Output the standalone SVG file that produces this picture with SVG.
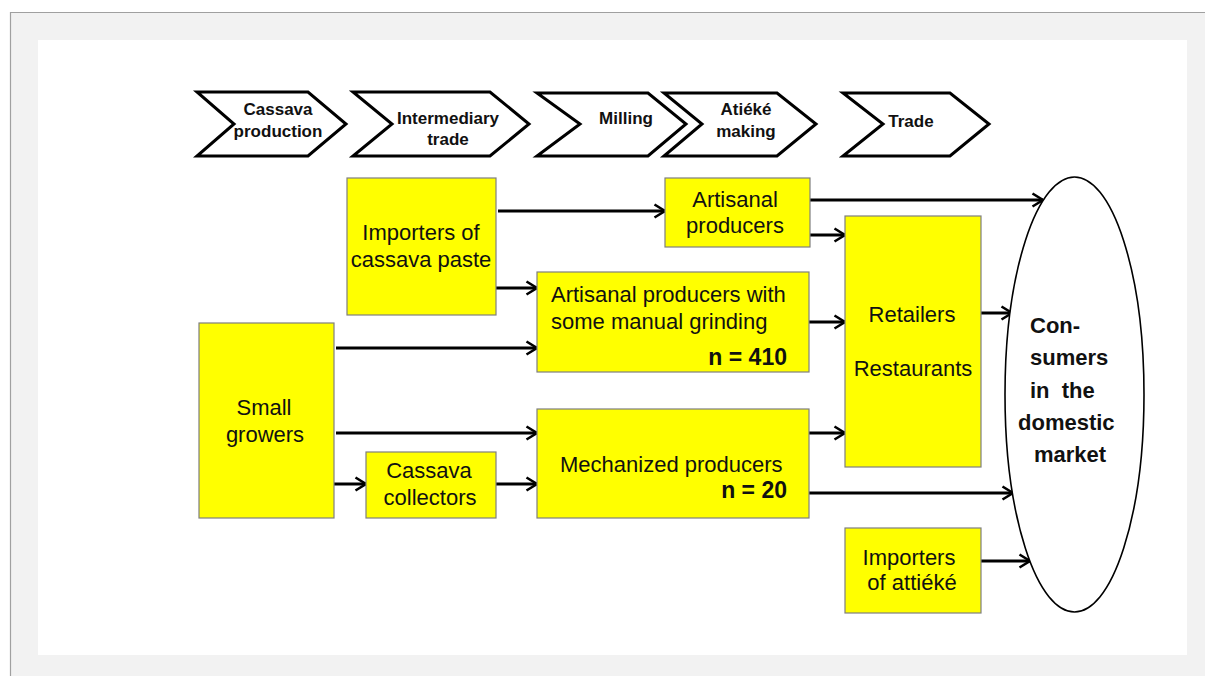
<svg xmlns="http://www.w3.org/2000/svg" width="1205" height="676" viewBox="0 0 1205 676">
<defs>
<style>
.chev{fill:#fff;stroke:#000;stroke-width:3;stroke-linejoin:miter}
.ct{font-family:"Liberation Sans",Arial,sans-serif;font-weight:bold;font-size:17px;fill:#111;text-anchor:middle}
.box{fill:#ffff00;stroke:#7f7f7f;stroke-width:1.2}
.bt{font-family:"Liberation Sans",Arial,sans-serif;font-size:22px;fill:#111;text-anchor:middle}
.bl{font-family:"Liberation Sans",Arial,sans-serif;font-size:22px;fill:#111}
.nb{font-family:"Liberation Sans",Arial,sans-serif;font-weight:bold;font-size:23px;fill:#111;text-anchor:end}
.et{font-family:"Liberation Sans",Arial,sans-serif;font-weight:bold;font-size:22px;fill:#111;white-space:pre}
.conn line{stroke:#000;stroke-width:3;marker-end:url(#arr)}
</style>
<marker id="arr" markerUnits="userSpaceOnUse" viewBox="0 0 14 16" refX="12" refY="8" markerWidth="14" markerHeight="16" orient="auto">
<path d="M1.5,1.5 L12,8 L1.5,14.5" fill="none" stroke="#000" stroke-width="2.6"/>
</marker>
</defs>
<rect x="0" y="0" width="1205" height="676" fill="#fff"/>
<rect x="10" y="12" width="1195" height="664" fill="#f2f2f2"/>
<line x1="10" y1="12.5" x2="1205" y2="12.5" stroke="#a0a0a0" stroke-width="1.2"/>
<line x1="10.5" y1="12" x2="10.5" y2="676" stroke="#a0a0a0" stroke-width="1.2"/>
<rect x="38" y="40" width="1149" height="615" fill="#fff"/>

<g id="stage-cassava-production">
<polygon class="chev" points="197,92 308,92 346,124 308,156 197,156 234,124"/>
<text class="ct" x="278" y="115">Cassava</text>
<text class="ct" x="278" y="137">production</text>
</g>
<g id="stage-intermediary-trade">
<polygon class="chev" points="353,92 490,92 529,124 490,156 353,156 392,124"/>
<text class="ct" x="448" y="124">Intermediary</text>
<text class="ct" x="448" y="145">trade</text>
</g>
<g id="stage-milling">
<polygon class="chev" points="537,93 648,93 686,124 648,156 537,156 580,124"/>
<text class="ct" x="626" y="124">Milling</text>
</g>
<g id="stage-atieke-making">
<polygon class="chev" points="664,93 777,93 816,124 777,156 664,156 702,124"/>
<text class="ct" x="746" y="115">Atiéké</text>
<text class="ct" x="746" y="137">making</text>
</g>
<g id="stage-trade">
<polygon class="chev" points="843,93 950,93 989,124 950,156 843,156 883,124"/>
<text class="ct" x="911" y="127">Trade</text>
</g>

<g class="conn" id="connectors">
<line x1="498" y1="211" x2="665" y2="211"/>
<line x1="496" y1="288" x2="537" y2="288"/>
<line x1="336" y1="348" x2="537" y2="348"/>
<line x1="336" y1="433" x2="537" y2="433"/>
<line x1="334" y1="484" x2="366" y2="484"/>
<line x1="496" y1="484" x2="537" y2="484"/>
<line x1="810" y1="200" x2="1043" y2="200"/>
<line x1="810" y1="235" x2="845" y2="235"/>
<line x1="809" y1="322" x2="845" y2="322"/>
<line x1="809" y1="433" x2="845" y2="433"/>
<line x1="809" y1="493" x2="1013" y2="493"/>
<line x1="981" y1="313" x2="1012" y2="313"/>
<line x1="981" y1="561" x2="1030" y2="561"/>
</g>

<g id="importers-cassava-paste">
<rect class="box" x="347" y="178" width="149" height="137"/>
<text class="bt" x="421" y="240">Importers of</text>
<text class="bt" x="421" y="267">cassava paste</text>
</g>
<g id="small-growers">
<rect class="box" x="199" y="323" width="135" height="195"/>
<text class="bt" x="264" y="415">Small</text>
<text class="bt" x="265" y="442">growers</text>
</g>
<g id="cassava-collectors">
<rect class="box" x="366" y="452" width="130" height="66"/>
<text class="bt" x="429" y="478">Cassava</text>
<text class="bt" x="430" y="505">collectors</text>
</g>
<g id="artisanal-producers">
<rect class="box" x="665" y="178" width="145" height="69"/>
<text class="bt" x="735" y="207">Artisanal</text>
<text class="bt" x="735" y="233">producers</text>
</g>
<g id="artisanal-manual-grinding">
<rect class="box" x="537" y="272" width="272" height="100"/>
<text class="bl" x="551" y="302">Artisanal producers with</text>
<text class="bl" x="551" y="329">some manual grinding</text>
<text class="nb" x="787" y="365">n = 410</text>
</g>
<g id="mechanized-producers">
<rect class="box" x="537" y="409" width="272" height="109"/>
<text class="bl" x="560" y="472">Mechanized producers</text>
<text class="nb" x="787" y="498">n = 20</text>
</g>
<g id="retailers-restaurants">
<rect class="box" x="845" y="216" width="136" height="251"/>
<text class="bt" x="912" y="322">Retailers</text>
<text class="bt" x="913" y="376">Restaurants</text>
</g>
<g id="importers-attieke">
<rect class="box" x="845" y="528" width="136" height="85"/>
<text class="bt" x="909" y="565">Importers</text>
<text class="bt" x="912" y="590">of attiéké</text>
</g>
<g id="consumers">
<ellipse cx="1074.5" cy="394.5" rx="69.5" ry="217.5" fill="#fff" stroke="#000" stroke-width="1.6"/>
<text class="et" x="1030" y="333">Con-</text>
<text class="et" x="1030" y="365">sumers</text>
<text class="et" x="1030" y="398">in  the</text>
<text class="et" x="1018" y="430">domestic</text>
<text class="et" x="1034" y="462">market</text>
</g>
</svg>
